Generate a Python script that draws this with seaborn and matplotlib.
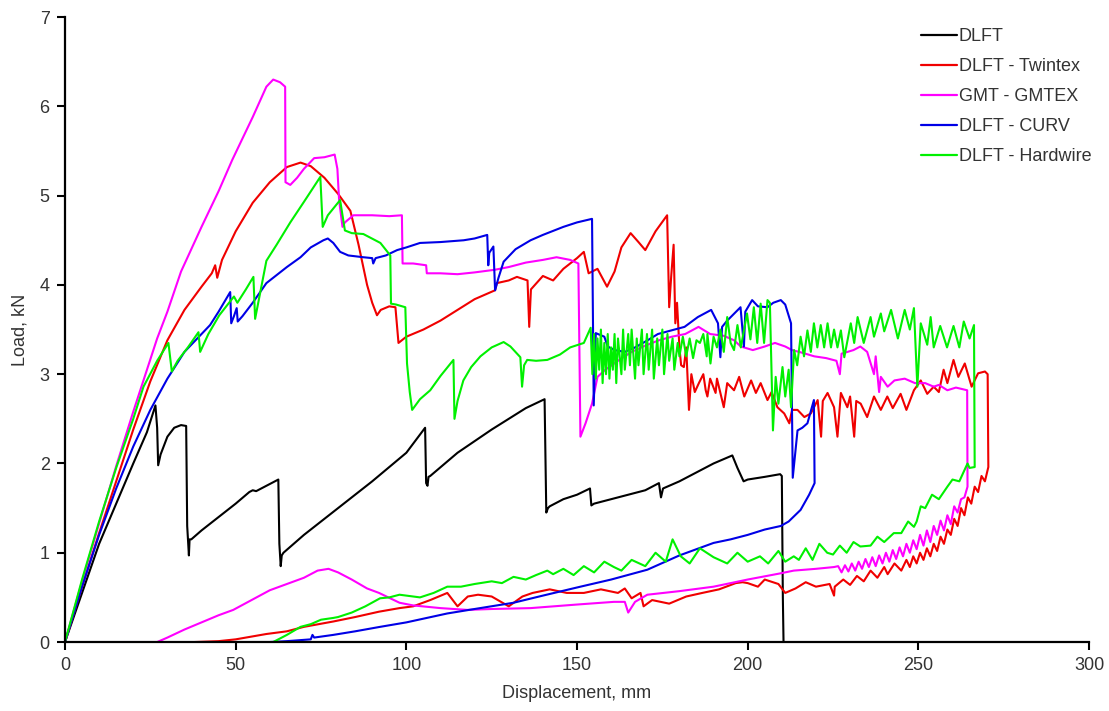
import pandas as pd
import numpy as np
import matplotlib
matplotlib.use("Agg")
import matplotlib.pyplot as plt
import seaborn as sns

# load - displacement curves
names = ["DLFT", "DLFT - Twintex", "GMT - GMTEX", "DLFT - CURV", "DLFT - Hardwire"]
colours = ["#000000", "#F00000", "#FF00FF", "#0000E6", "#00F000"]

dlft_x = [0, 5, 10, 15, 20, 24, 26.5, 27, 27.3, 28, 30, 32, 34, 35.5, 35.8, 36.3, 36.5, 37, 40, 45, 50, 54, 55, 56,
          60, 62.5, 62.8, 63.2, 63.5, 64, 70, 80, 90, 100, 105.5, 105.8, 106.2, 106.5, 107, 115, 125, 135, 140.5,
          141, 141.5, 142, 146, 150, 153.8, 154.2, 155, 160, 165, 170, 174, 174.6, 175.2, 180, 185, 190, 195.5,
          197, 198.8, 200, 205, 209.5, 210, 210.3, 210.5]
dlft_y = [0, 0.55, 1.1, 1.55, 2.0, 2.35, 2.65, 2.4, 1.98, 2.1, 2.3, 2.4, 2.43, 2.42, 1.3, 0.97, 1.15, 1.15, 1.25,
          1.4, 1.55, 1.68, 1.7, 1.69, 1.77, 1.82, 1.1, 0.85, 0.97, 1.0, 1.2, 1.5, 1.8, 2.12, 2.4, 1.78, 1.75, 1.85,
          1.86, 2.12, 2.38, 2.62, 2.72, 1.45, 1.5, 1.52, 1.6, 1.65, 1.72, 1.53, 1.55, 1.6, 1.65, 1.7, 1.78, 1.62,
          1.72, 1.8, 1.9, 2.0, 2.09, 1.95, 1.8, 1.82, 1.85, 1.88, 1.86, 0.5, 0]

twintex_x = [0, 5, 10, 15, 20, 25, 30, 35, 40, 43, 44, 44.6, 46, 50, 55, 60, 65, 69, 72, 76, 80, 83.6, 86, 88.5,
             90, 91.4, 92.5, 95, 96.8, 97.7, 100, 105, 110, 115, 120, 126, 126.5, 130, 132.4, 135.5, 136, 136.5,
             140, 143, 146, 150, 152, 153.4, 156, 158.8, 161, 163, 165.7, 168, 170, 173, 176.4, 177, 177.6, 178.3,
             178.8, 179.3, 180, 180.5, 181.3, 182, 182.8, 183.5, 184.5, 185.7, 187, 187.7, 188.2, 189, 190.6, 191,
             193, 194, 196, 197.5, 199, 201, 202.4, 203.8, 205.8, 207, 208.7, 210.7, 212.2, 213, 214.6, 216.6,
             218.5, 220.5, 221.5, 222, 223.4, 225.3, 226.3, 227.3, 229.2, 230, 231.2, 231.8, 233.1, 235, 237, 239,
             240.9, 242.5, 244.8, 246.5, 248.7, 250.7, 252.6, 254.5, 256, 257.4, 258.5, 260.3, 261.7, 263.6, 265.6,
             267.5, 269.5, 270.3,
             270.5, 269.5, 268.5, 267.5, 266.5, 265.5, 264.5, 263.5, 262.5, 261.5, 260.5, 259.5, 258.5, 257.5,
             256.5, 255.5, 254.5, 253.5, 252.5, 251.5, 250.5, 249.5, 248.5, 247.5, 246.5, 245, 243, 241, 240, 238,
             236, 234, 232, 230, 228, 225.5, 225.3,
             224, 220, 217, 214, 211, 209, 205, 203, 200, 198.5, 196.5, 191.6, 186.7, 182, 177, 172, 169.5, 168.6,
             166, 164, 162, 157, 152, 147, 142, 137, 134, 130, 125, 121, 118, 115, 112, 107, 102, 98, 92, 85, 78.6,
             70, 65, 59, 50, 45, 38]
twintex_y = [0, 0.62, 1.22, 1.8, 2.38, 2.92, 3.38, 3.72, 3.98, 4.13, 4.22, 4.08, 4.28, 4.6, 4.92, 5.15, 5.32, 5.37,
             5.33, 5.2, 5.02, 4.83, 4.45, 4.0, 3.8, 3.66, 3.72, 3.76, 3.75, 3.35, 3.42, 3.5, 3.6, 3.72, 3.84, 3.94,
             4.02, 4.05, 4.09, 4.05, 3.53, 3.95, 4.1, 4.05, 4.18, 4.3, 4.37, 4.13, 4.18, 3.98, 4.15, 4.42, 4.58,
             4.48, 4.39, 4.6, 4.78, 3.75, 4.1, 4.45, 3.57, 3.8, 3.3, 3.1, 3.08, 3.3, 2.6, 3.0, 2.8, 2.9, 3.0, 2.82,
             2.75, 2.95, 2.79, 2.95, 2.63, 2.9, 2.82, 2.97, 2.75, 2.93, 2.79, 2.9, 2.71, 2.8, 2.63, 2.56, 2.45, 2.6,
             2.6, 2.52, 2.56, 2.71, 2.3, 2.7, 2.79, 2.63, 2.3, 2.79, 2.63, 2.75, 2.3, 2.7, 2.67, 2.52, 2.75, 2.6,
             2.75, 2.62, 2.78, 2.6, 2.82, 2.93, 2.78, 2.86, 2.8, 3.05, 2.9, 3.16, 2.97, 3.12, 2.86, 3.01, 3.03, 3.0,
             1.96, 1.8, 1.86, 1.68, 1.74, 1.55, 1.62, 1.42, 1.5, 1.3, 1.38, 1.2, 1.26, 1.1, 1.18, 1.02, 1.1, 0.96,
             1.05, 0.92, 1.0, 0.88, 0.96, 0.84, 0.92, 0.8, 0.88, 0.76, 0.84, 0.72, 0.8, 0.68, 0.74, 0.64, 0.7, 0.62,
             0.52,
             0.65, 0.62, 0.67, 0.6, 0.55, 0.65, 0.7, 0.62, 0.66, 0.67, 0.66, 0.59, 0.55, 0.51, 0.43, 0.47, 0.4, 0.55,
             0.49, 0.6, 0.55, 0.59, 0.55, 0.55, 0.59, 0.55, 0.51, 0.4, 0.51, 0.53, 0.51, 0.4, 0.55, 0.47, 0.4, 0.38,
             0.34, 0.28, 0.23, 0.17, 0.12, 0.09, 0.03, 0.01, 0]

gmtex_x = [0, 5, 10, 15, 20, 23, 27, 30, 34, 40, 45, 49, 55, 59, 61, 63, 64.5, 64.6, 66, 68, 70, 73, 76, 79, 79.8,
           80.3, 81.3, 82, 84.5, 90, 95, 98.7, 98.9, 102, 105.8, 106, 110, 115, 120, 126, 130, 135, 140, 144, 148,
           150.4, 150.8, 151, 152.5, 154.4, 156, 158.3, 162, 166, 170, 174, 177.8, 181.7, 185.6, 189, 193, 196, 198,
           201.5, 205, 208, 211, 213, 216, 219.5, 223, 226, 227, 227.5, 231, 233, 235, 237, 237.5, 238.5, 239, 241,
           243, 246, 249, 252, 254.5, 256, 258.5, 261, 264.3,
           264.4, 263.5, 262.5, 261.5, 260.5, 259.5, 258.5, 257.5, 256.5, 255.5, 254.5, 253.5, 252.5, 251.5,
           250.5, 249.5, 248.5, 247.5, 246.5, 245.5, 244.5, 243.5, 242.5, 241.5, 240.5, 239.5, 238.5, 237.5,
           236.5, 235.5, 234.5, 233.5, 232.5, 231.5, 230.5, 229.5, 228.5, 227.5, 226.5, 225.3,
           220, 213.5, 209.7, 200, 190, 180, 170.6, 167, 165, 164, 160.8, 150, 140, 136.4, 125, 117.8, 110, 102, 98,
           92, 88.5, 84, 80, 77.2, 74, 70, 60, 49.3, 45, 40, 35, 30, 27, 17]
gmtex_y = [0, 0.68, 1.33, 1.97, 2.58, 2.93, 3.4, 3.7, 4.15, 4.65, 5.05, 5.4, 5.88, 6.22, 6.3, 6.27, 6.22, 5.15,
           5.12, 5.2, 5.3, 5.42, 5.43, 5.46, 5.3, 4.95, 4.65, 4.7, 4.78, 4.78, 4.77, 4.78, 4.24, 4.24, 4.22, 4.13,
           4.13, 4.12, 4.14, 4.17, 4.2, 4.25, 4.28, 4.31, 4.28, 4.24, 3.0, 2.3, 2.45, 2.67, 2.97, 3.05, 3.15, 3.25,
           3.32, 3.38, 3.42, 3.45, 3.53, 3.45, 3.43, 3.38, 3.31, 3.27, 3.31, 3.35, 3.31, 3.27, 3.24, 3.2, 3.18,
           3.15, 3.0, 3.23, 3.27, 3.31, 3.25, 3.0, 3.2, 2.8, 2.97, 2.86, 2.93, 2.95, 2.9, 2.9, 2.86, 2.88, 2.82,
           2.85, 2.82,
           1.74, 1.62, 1.6, 1.45, 1.52, 1.32, 1.42, 1.25, 1.36, 1.2, 1.3, 1.12, 1.25, 1.08, 1.2, 1.04, 1.14, 1.0,
           1.1, 0.96, 1.06, 0.93, 1.03, 0.9, 1.0, 0.88, 0.97, 0.85, 0.95, 0.84, 0.93, 0.82, 0.9, 0.8, 0.88, 0.79,
           0.86, 0.78, 0.85, 0.84,
           0.82, 0.8, 0.77, 0.7, 0.62, 0.57, 0.53, 0.45, 0.33, 0.45, 0.45, 0.42, 0.39, 0.38, 0.37, 0.36, 0.38,
           0.41, 0.44, 0.55, 0.6, 0.7, 0.78, 0.82, 0.8, 0.72, 0.58, 0.36, 0.3, 0.22, 0.14, 0.05, 0, 0]

curv_x = [0, 5, 10, 15, 20, 25, 30, 35, 40, 42.5, 45, 48.4, 48.7, 49.5, 50.3, 50.6, 52, 55, 59, 65, 69, 72, 75.7,
          77, 78.6, 80.6, 83, 87.4, 90, 90.3, 91, 94, 97.3, 100, 104, 110, 116.8, 120, 123.7, 124, 124.3, 125.5,
          126, 127, 128.5, 132, 136.4, 140, 146, 150, 154.4, 154.9, 155.5, 158, 159, 161, 164, 167, 170.7, 173.7,
          177.6, 181.5, 185.4, 189.3, 191.3, 192, 192.5, 194, 197.9, 198.9, 199.3, 201.3, 203, 205.8, 207.5, 209.7,
          211, 212.7, 213.2, 214.6, 216, 217.5, 219.4,
          219.6, 218, 215.5, 212, 209.7, 205, 200, 195, 190, 180, 170.6, 160, 151, 140, 131.4, 120, 112, 100, 92.3,
          85, 78.6, 73, 72.5, 72, 65, 60, 50]
curv_y = [0, 0.62, 1.2, 1.72, 2.19, 2.6, 2.95, 3.25, 3.45, 3.55, 3.7, 3.92, 3.57, 3.65, 3.74, 3.59, 3.65, 3.8,
          4.02, 4.2, 4.31, 4.42, 4.5, 4.52, 4.47, 4.37, 4.33, 4.31, 4.3, 4.24, 4.3, 4.33, 4.39, 4.42, 4.47, 4.48,
          4.5, 4.52, 4.56, 4.22, 4.36, 4.43, 3.94, 4.08, 4.26, 4.4, 4.5, 4.56, 4.65, 4.7, 4.74, 2.65, 3.46, 3.42,
          3.31, 3.27, 3.25, 3.3, 3.38, 3.45, 3.49, 3.53, 3.64, 3.72, 3.57, 3.19, 3.53, 3.6, 3.75, 3.31, 3.7, 3.83,
          3.76, 3.75, 3.8, 3.83, 3.78, 3.57, 1.84, 2.37, 2.4, 2.45, 2.71,
          1.78, 1.65, 1.48, 1.35, 1.3, 1.26, 1.2, 1.15, 1.11, 0.97, 0.81, 0.7, 0.62, 0.52, 0.44, 0.37, 0.32, 0.22,
          0.17, 0.12, 0.08, 0.05, 0.08, 0.03, 0.01, 0, 0]

hardwire_x = [0, 5, 10, 15, 20, 23, 27, 30.3, 31.3, 33, 36, 39.1, 39.6, 42, 45.2, 49.5, 50.5, 53, 55.2, 55.7, 59,
              62, 66, 70, 74.8, 75.5, 77, 80.6, 82, 84, 87.4, 92.4, 95.3, 95.5, 97, 99.7, 100.2, 101, 101.7, 104,
              107, 110, 113.8, 114.1, 115, 116.7, 119, 121.7, 125, 128.5, 130.5, 133.4, 133.9, 134.5, 135.4, 138,
              141.3, 145, 148, 152, 154, 154.5, 155, 155.5, 156, 156.5, 157, 157.5, 158, 158.5, 159, 159.5, 160,
              160.5, 161, 161.5, 162, 163, 163.5, 164, 165, 165.5, 166, 167, 167.5, 168, 169, 169.5, 170.5, 171,
              172, 172.5, 173.5, 174, 175, 175.5, 176.5, 177, 178, 178.5, 179.5, 180, 181, 182, 183, 184, 185, 186,
              187, 188, 188.2, 189.1, 190, 191, 192, 193, 194, 195, 196, 197, 198, 199.8, 200.8, 201.8, 202.8, 203.8,
              204.8, 205.8, 206.5, 207, 207.4, 208.2, 209, 210.2, 211, 212, 212.7, 213.6, 214.5, 215.5, 216.5, 217.5,
              218.5, 219.4, 220.4, 221.4, 222.4, 223.4, 224.4, 225.3, 226.3, 227.3, 228.3, 230.2, 231.2, 232.2, 234,
              236, 237, 239, 240, 242, 244, 246, 247.5, 248.7, 249.7, 250.7, 252.6, 253.6, 254.5, 256.4, 258.4,
              260.3, 262, 263.3, 265, 266.3,
              266.5, 265, 264.4, 262, 260, 258.5, 256, 254, 252, 250.7, 249.5, 248.7, 247, 245, 242.8, 240, 238, 236,
              233, 231, 229, 227, 225, 223.3, 221, 219, 217, 215, 213.5, 211, 209, 206, 203.6, 200, 197, 194, 190,
              186, 183, 180.4, 178, 176, 173, 170, 166, 163, 160.8, 158, 155, 152, 149, 146, 143, 141.3, 138, 135,
              131.4, 128, 125, 120, 116, 112, 108, 104, 102, 98, 95, 92.3, 88, 84, 80, 78.6, 75, 72, 69, 65, 61, 55]
hardwire_y = [0, 0.7, 1.35, 1.95, 2.5, 2.86, 3.15, 3.35, 3.03, 3.15, 3.3, 3.47, 3.25, 3.45, 3.66, 3.87, 3.8, 3.95,
              4.09, 3.62, 4.27, 4.45, 4.7, 4.93, 5.21, 4.65, 4.78, 4.95, 4.61, 4.58, 4.57, 4.47, 4.33, 3.79, 3.78,
              3.75, 3.12, 2.8, 2.6, 2.72, 2.82, 2.98, 3.16, 2.5, 2.7, 2.93, 3.08, 3.2, 3.3, 3.36, 3.31, 3.19, 2.86,
              3.1, 3.16, 3.15, 3.16, 3.22, 3.3, 3.35, 3.52, 3.0, 3.45, 2.95, 3.4, 3.05, 3.5, 2.9, 3.35, 3.0, 3.45,
              2.95, 3.3, 3.05, 3.45, 2.9, 3.4, 3.0, 3.5, 3.05, 3.45, 3.1, 3.5, 2.95, 3.4, 3.1, 3.5, 3.0, 3.45, 3.05,
              3.5, 2.95, 3.4, 3.1, 3.5, 3.0, 3.45, 3.15, 3.4, 3.05, 3.35, 3.2, 3.42, 3.2, 3.4, 3.18, 3.38, 3.35,
              3.45, 3.2, 3.45, 3.12, 3.42, 3.3, 3.5, 3.25, 3.64, 3.35, 3.27, 3.55, 3.3, 3.68, 3.39, 3.75, 3.35, 3.79,
              3.35, 3.83, 3.8, 3.0, 2.37, 2.97, 2.67, 3.08, 2.75, 3.05, 2.63, 3.27, 3.1, 3.42, 3.2, 3.49, 3.25, 3.57,
              3.3, 3.55, 3.3, 3.57, 3.3, 3.5, 3.3, 3.49, 3.19, 3.57, 3.35, 3.64, 3.35, 3.64, 3.42, 3.68, 3.48, 3.72,
              3.4, 3.72, 3.5, 3.74, 2.86, 3.57, 3.33, 3.64, 3.3, 3.54, 3.3, 3.54, 3.3, 3.59, 3.4, 3.55,
              1.96, 1.95, 2.0, 1.8, 1.82, 1.74, 1.6, 1.65, 1.5, 1.52, 1.35, 1.29, 1.35, 1.22, 1.22, 1.12, 1.18, 1.08,
              1.07, 1.12, 1.0, 1.08, 0.98, 1.0, 1.1, 0.92, 1.05, 0.92, 0.96, 0.9, 1.02, 0.88, 0.96, 0.9, 1.0, 0.88,
              0.95, 1.05, 0.88, 0.96, 1.15, 0.9, 1.0, 0.85, 0.92, 0.8, 0.84, 0.9, 0.78, 0.85, 0.75, 0.82, 0.76, 0.8,
              0.75, 0.7, 0.73, 0.66, 0.68, 0.65, 0.62, 0.62, 0.55, 0.5, 0.51, 0.53, 0.5, 0.49, 0.4, 0.33, 0.28, 0.27,
              0.25, 0.2, 0.17, 0.08, 0, 0]

series = [(dlft_x, dlft_y), (twintex_x, twintex_y), (gmtex_x, gmtex_y), (curv_x, curv_y), (hardwire_x, hardwire_y)]

frames = []
for name, (xs, ys) in zip(names, series):
    frames.append(pd.DataFrame({"disp": xs, "load": ys, "material": name}))
df = pd.concat(frames, ignore_index=True)

sns.set_style("white")
plt.rcParams["font.family"] = ["Liberation Sans", "DejaVu Sans"]

fig = plt.figure(figsize=(11.09, 7.11), dpi=100)
ax = fig.add_axes([0.0586, 0.097, 0.9234, 0.879])

sns.lineplot(data=df, x="disp", y="load", hue="material", hue_order=names,
             palette=dict(zip(names, colours)), sort=False, estimator=None,
             linewidth=1.5, ax=ax)

ax.set_xlim(0, 300)
ax.set_ylim(0, 7)
ax.set_xticks(range(0, 301, 50))
ax.set_yticks(range(0, 8))
ax.set_xlabel("Displacement, mm", fontsize=13, color="#333333", labelpad=8)
ax.set_ylabel("Load, kN", fontsize=13, color="#333333", labelpad=8)
ax.tick_params(axis="both", direction="out", length=6, width=1.5, labelsize=13,
               labelcolor="#333333", color="black", pad=5, bottom=True, left=True)
sns.despine(ax=ax)
for s in ["left", "bottom"]:
    ax.spines[s].set_linewidth(1.6)
    ax.spines[s].set_color("black")

leg = ax.legend(loc="upper left", bbox_to_anchor=(0.82, 1.008), frameon=False, fontsize=13,
                handlelength=2.0, handletextpad=0.1, labelspacing=0.72, labelcolor="#333333")
for line in leg.get_lines():
    line.set_linewidth(1.6)

fig.savefig("out.png", dpi=100)
